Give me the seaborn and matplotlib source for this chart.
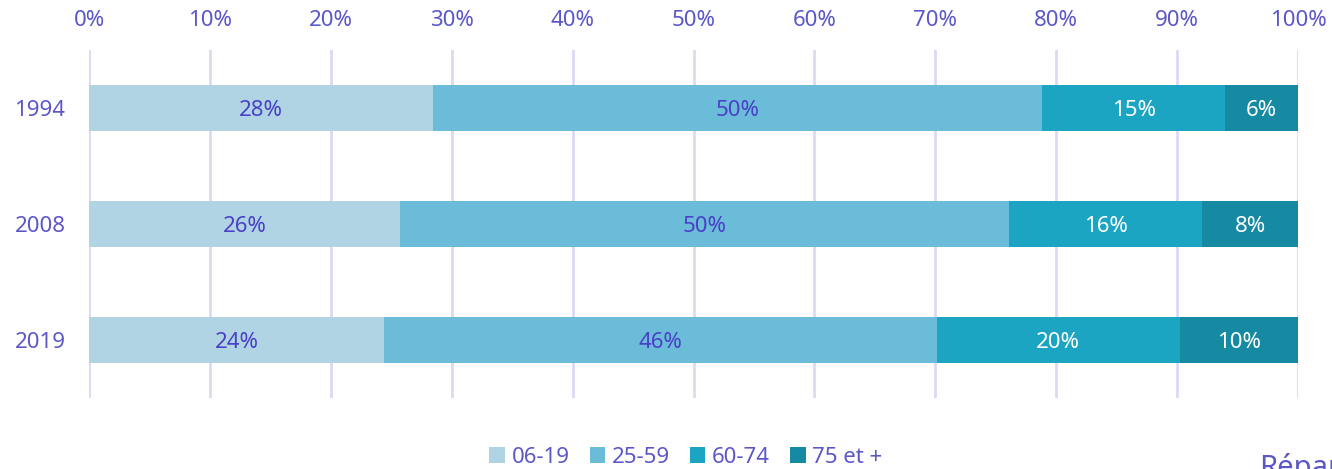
import matplotlib
matplotlib.use("Agg")
import matplotlib.pyplot as plt
import seaborn as sns
import numpy as np
import pandas as pd
from matplotlib.patches import Patch

years = ["1994", "2008", "2019"]
groups = ["06-19", "25-59", "60-74", "75 et +"]
v_06_19 = [28.45, 25.7, 24.4]
v_25_59 = [50.35, 50.4, 45.7]
v_60_74 = [15.2, 16.0, 20.1]
v_75 = [6.0, 7.9, 9.8]
colors = ["#b0d4e4", "#6bbcd8", "#1ca5c3", "#1689a3"]
label_colors = ["#4a40c8", "#4a40c8", "#ffffff", "#ffffff"]
ticks = [0, 10, 20, 30, 40, 50, 60, 70, 80, 90, 100]
tick_labels = [f"{t}%" for t in ticks]

series = [v_06_19, v_25_59, v_60_74, v_75]
df = pd.DataFrame({g: s for g, s in zip(groups, series)}, index=years)
cum = df.cumsum(axis=1)

sns.set_theme(style="white")
plt.rcParams["font.family"] = ["Noto Sans", "DejaVu Sans"]
txt_color = "#5b57c9"
fs = 16

fig = plt.figure(figsize=(13.32, 4.69), dpi=100)
W, H = 1332, 469
ax = fig.add_axes([89 / W, 1 - 398 / H, (1298 - 89) / W, (398 - 50) / H])

for t in ticks:
    ax.axvline(t, color="#dcd9f2", lw=2, zorder=0)

for i in range(len(groups) - 1, -1, -1):
    g = groups[i]
    sns.barplot(x=cum[g].values, y=years, orient="h", color=colors[i],
                width=0.4, ax=ax, saturation=1, edgecolor="none", zorder=2)

for i, g in enumerate(groups):
    for j, y in enumerate(years):
        v = df.loc[y, g]
        c = cum.loc[y, g] - v / 2
        ax.text(c, j + 0.02, f"{round(v):.0f}%", ha="center", va="center",
                color=label_colors[i], fontsize=fs, zorder=5)

ax.set_xlim(0, 100)
ax.set_ylim(2.5, -0.5)
ax.xaxis.tick_top()
ax.set_xticks(ticks)
ax.set_xticklabels(tick_labels)
ax.tick_params(axis="x", length=0, pad=13.5, labelsize=fs, colors=txt_color)
ax.tick_params(axis="y", length=0, pad=17, labelsize=fs, colors=txt_color)
ax.set_xlabel("")
ax.set_ylabel("")
for s in ax.spines.values():
    s.set_visible(False)

handles = [Patch(facecolor=c, edgecolor="none") for c in colors]
leg = fig.legend(handles, groups, loc="center", bbox_to_anchor=(686 / W, 1 - 457 / H),
                 ncol=4, frameon=False, fontsize=fs, handlelength=0.7, handleheight=0.7,
                 handletextpad=0.3, columnspacing=0.9, labelcolor=txt_color,
                 borderpad=0, borderaxespad=0)

fig.text(1259 / W, 1 - 476 / H, "Répartition", fontsize=21, color=txt_color,
         ha="left", va="baseline")

fig.savefig("out.png", dpi=100)
